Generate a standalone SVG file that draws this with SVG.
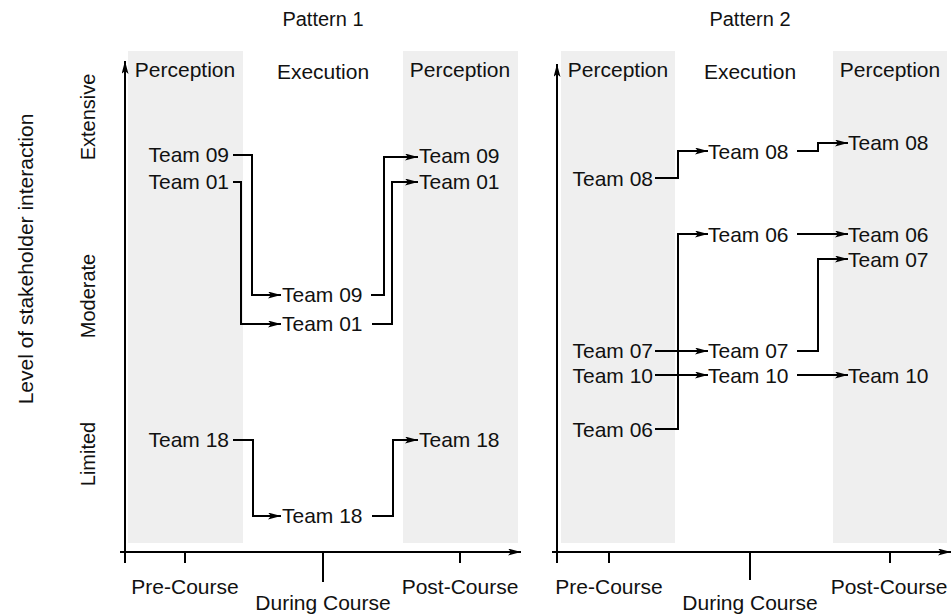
<svg xmlns="http://www.w3.org/2000/svg" width="952" height="615" viewBox="0 0 952 615">
<defs>
<marker id="ah" markerUnits="userSpaceOnUse" markerWidth="14" markerHeight="8" refX="13" refY="3.5" orient="auto">
<path d="M0,0 L13,3.5 L0,7 L3,3.5 z" fill="#000"/>
</marker>
<style>
text{font-family:"Liberation Sans",Arial,sans-serif;fill:#111;}
.t{font-size:21px;}
.h{font-size:20px;}
.ax{font-size:20px;}
.ay{font-size:21px;}
.mid{text-anchor:middle;}
.end{text-anchor:end;}
.band{fill:#efefef;}
.c{fill:none;stroke:#000;stroke-width:2;}
.axis{fill:none;stroke:#000;stroke-width:2;}
</style>
</defs>
<rect width="952" height="615" fill="#fff"/>

<g id="bands">
<rect class="band" x="128" y="51" width="115" height="492"/>
<rect class="band" x="403" y="51" width="115" height="492"/>
<rect class="band" x="561" y="51" width="114" height="492"/>
<rect class="band" x="833" y="51" width="114" height="492"/>
</g>

<g id="titles">
<text class="h mid" x="323" y="26">Pattern 1</text>
<text class="h mid" x="750" y="26">Pattern 2</text>
<text class="ay mid" transform="translate(33,259) rotate(-90)">Level of stakeholder interaction</text>
<text class="ax mid" transform="translate(95,117) rotate(-90)">Extensive</text>
<text class="ax mid" transform="translate(95,296) rotate(-90)">Moderate</text>
<text class="ax mid" transform="translate(95,454) rotate(-90)">Limited</text>
</g>

<g id="axes">
<path class="axis" d="M125,563 V61" marker-end="url(#ah)"/>
<path class="axis" d="M120,552 H521" marker-end="url(#ah)"/>
<path class="axis" d="M185,552 V563 M323,552 V582 M460,552 V563"/>
<path class="axis" d="M557,563 V64" marker-end="url(#ah)"/>
<path class="axis" d="M552,552 H951" marker-end="url(#ah)"/>
<path class="axis" d="M609,552 V563 M750,552 V580 M890,552 V563"/>
<text class="t mid" x="185" y="594">Pre-Course</text>
<text class="t mid" x="323" y="610">During Course</text>
<text class="t mid" x="460" y="594">Post-Course</text>
<text class="t mid" x="609" y="594">Pre-Course</text>
<text class="t mid" x="750" y="610">During Course</text>
<text class="t mid" x="889" y="594">Post-Course</text>
</g>

<g id="phase-labels">
<text class="t mid" x="185" y="77">Perception</text>
<text class="t mid" x="323" y="79">Execution</text>
<text class="t mid" x="460" y="77">Perception</text>
<text class="t mid" x="618" y="77">Perception</text>
<text class="t mid" x="750" y="79">Execution</text>
<text class="t mid" x="890" y="77">Perception</text>
</g>

<g id="p1-pre-team09"><text class="t end" x="229" y="162">Team 09</text></g>
<g id="p1-pre-team01"><text class="t end" x="229" y="189">Team 01</text></g>
<g id="p1-pre-team18"><text class="t end" x="229" y="447">Team 18</text></g>
<g id="p1-dur-team09"><text class="t" x="282" y="302">Team 09</text></g>
<g id="p1-dur-team01"><text class="t" x="282" y="331">Team 01</text></g>
<g id="p1-dur-team18"><text class="t" x="282" y="523">Team 18</text></g>
<g id="p1-post-team09"><text class="t" x="419" y="163">Team 09</text></g>
<g id="p1-post-team01"><text class="t" x="419" y="189">Team 01</text></g>
<g id="p1-post-team18"><text class="t" x="419" y="447">Team 18</text></g>

<g id="p2-pre-team08"><text class="t end" x="653" y="186">Team 08</text></g>
<g id="p2-pre-team07"><text class="t end" x="653" y="358">Team 07</text></g>
<g id="p2-pre-team10"><text class="t end" x="653" y="383">Team 10</text></g>
<g id="p2-pre-team06"><text class="t end" x="653" y="437">Team 06</text></g>
<g id="p2-dur-team08"><text class="t" x="708" y="159">Team 08</text></g>
<g id="p2-dur-team06"><text class="t" x="708" y="242">Team 06</text></g>
<g id="p2-dur-team07"><text class="t" x="708" y="358">Team 07</text></g>
<g id="p2-dur-team10"><text class="t" x="708" y="383">Team 10</text></g>
<g id="p2-post-team08"><text class="t" x="848" y="150">Team 08</text></g>
<g id="p2-post-team06"><text class="t" x="848" y="242">Team 06</text></g>
<g id="p2-post-team07"><text class="t" x="848" y="267">Team 07</text></g>
<g id="p2-post-team10"><text class="t" x="848" y="383">Team 10</text></g>

<g id="connectors">
<path class="c" d="M233,155 H252 V295 H281" marker-end="url(#ah)"/>
<path class="c" d="M233,182 H241 V324 H281" marker-end="url(#ah)"/>
<path class="c" d="M371,295 H384 V157 H418" marker-end="url(#ah)"/>
<path class="c" d="M372,324 H392 V182 H418" marker-end="url(#ah)"/>
<path class="c" d="M233,440 H253 V516 H281" marker-end="url(#ah)"/>
<path class="c" d="M372,516 H393 V440 H418" marker-end="url(#ah)"/>

<path class="c" d="M655,178 H678 V151 H708" marker-end="url(#ah)"/>
<path class="c" d="M797,151 H818 V143 H848" marker-end="url(#ah)"/>
<path class="c" d="M655,429 H678 V234 H708" marker-end="url(#ah)"/>
<path class="c" d="M797,234 H848" marker-end="url(#ah)"/>
<path class="c" d="M655,351 H708" marker-end="url(#ah)"/>
<path class="c" d="M797,351 H818 V259 H848" marker-end="url(#ah)"/>
<path class="c" d="M655,375 H708" marker-end="url(#ah)"/>
<path class="c" d="M797,375 H848" marker-end="url(#ah)"/>
</g>
</svg>
